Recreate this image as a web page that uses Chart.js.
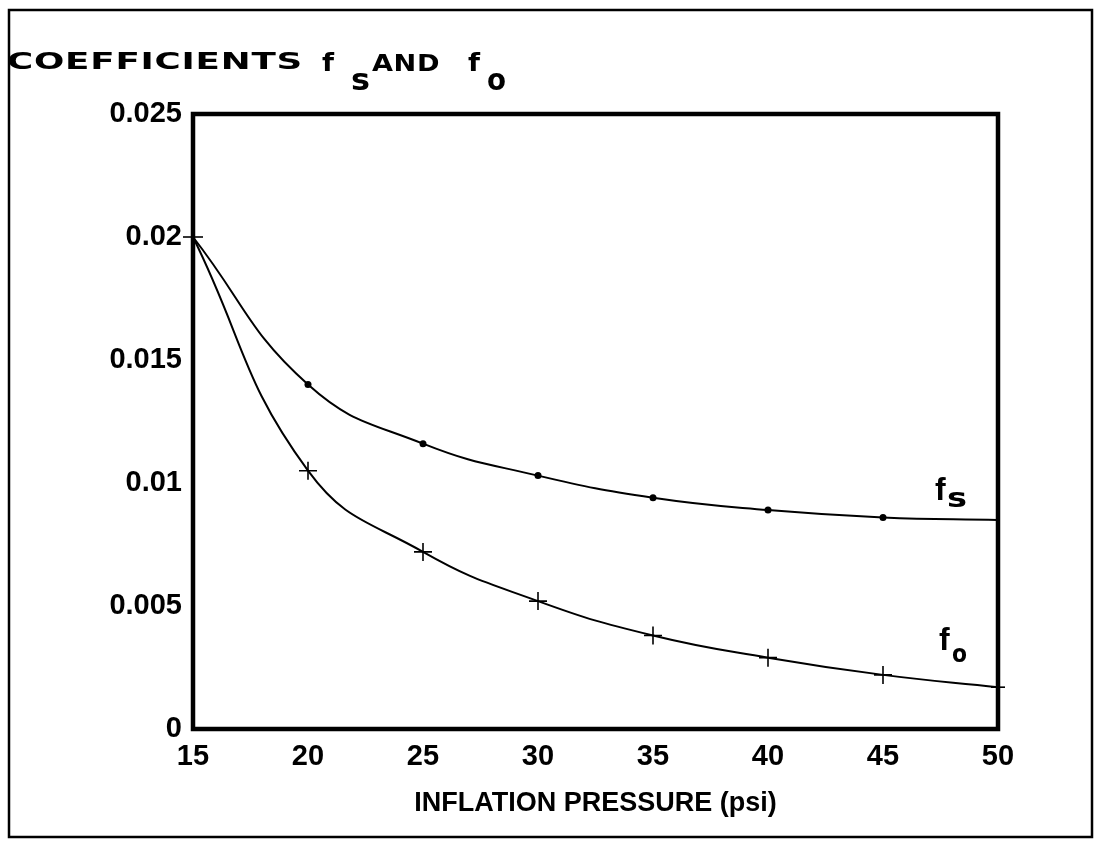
<!DOCTYPE html>
<html>
<head>
<meta charset="utf-8">
<script src="https://cdn.jsdelivr.net/npm/chart.js@4.4.0/dist/chart.umd.min.js"></script>
<style>
  html, body { margin: 0; padding: 0; background: #fff; }
  #wrap { width: 1094px; height: 844px; }
</style>
</head>
<body>
<div id="wrap"><canvas id="coefChart" width="1094" height="844"></canvas></div>
<script>
// values
const pressure = [15, 20, 25, 30, 35, 40, 45, 50];
const fsValues = [0.0200, 0.0140, 0.0116, 0.0103, 0.0094, 0.0089, 0.0086, 0.0085];
const foValues = [0.0200, 0.0105, 0.0072, 0.0052, 0.0038, 0.0029, 0.0022, 0.0017];

const xTickValues = [15, 20, 25, 30, 35, 40, 45, 50];
const xTickLabels = ['15', '20', '25', '30', '35', '40', '45', '50'];
const yTickValues = [0, 0.005, 0.01, 0.015, 0.02, 0.025];
const yTickLabels = ['0', '0.005', '0.01', '0.015', '0.02', '0.025'];

const tickFont = { family: 'Liberation Sans', weight: 'bold', size: 29 };

// stretched bold text, like the wide lettering of the scan
function wideText(ctx, text, x, y, font, width, spacing) {
  ctx.save();
  ctx.font = font;
  ctx.letterSpacing = (spacing || 0) + 'px';
  const w = ctx.measureText(text).width;
  ctx.translate(x, y);
  ctx.scale(width / w, 1);
  ctx.fillText(text, 0, 0);
  ctx.restore();
}

const figureText = {
  id: 'figureText',
  beforeDraw(chart) {
    const ctx = chart.ctx;
    ctx.save();
    ctx.fillStyle = '#fff';
    ctx.fillRect(0, 0, chart.width, chart.height);
    // outer frame of the figure
    ctx.strokeStyle = '#000';
    ctx.lineWidth = 2.5;
    ctx.strokeRect(9, 10, 1083, 827);
    ctx.restore();
  },
  afterDatasetsDraw(chart) {
    const ctx = chart.ctx;
    const { left, top, right, bottom } = chart.chartArea;
    ctx.save();
    ctx.strokeStyle = '#000';
    ctx.lineWidth = 4.5;
    ctx.strokeRect(left, top, right - left, bottom - top);
    ctx.restore();
  },
  afterDraw(chart) {
    const ctx = chart.ctx;
    ctx.save();
    ctx.fillStyle = '#000';
    ctx.textBaseline = 'alphabetic';
    // title: COEFFICIENTS f_s AND f_o
    wideText(ctx, 'COEFFICIENTS', 7, 69, 'bold 23px "DejaVu Sans"', 296, 0.5);
    wideText(ctx, 'f', 322, 71, 'bold 25px "DejaVu Sans"', 12);
    wideText(ctx, 's', 351, 90, 'bold 30px "DejaVu Sans"', 19);
    wideText(ctx, 'AND', 372, 71, 'bold 23px "DejaVu Sans"', 68, 0.5);
    wideText(ctx, 'f', 468, 71, 'bold 25px "DejaVu Sans"', 12);
    wideText(ctx, 'o', 487, 90, 'bold 30px "DejaVu Sans"', 19);

    // curve labels
    ctx.font = 'bold 32px "Liberation Sans"';
    ctx.fillText('f', 935, 500);
    wideText(ctx, 's', 947, 507, 'bold 26px "DejaVu Sans"', 20);
    ctx.font = 'bold 32px "Liberation Sans"';
    ctx.fillText('f', 939, 650);
    wideText(ctx, 'o', 952, 662, 'bold 24px "DejaVu Sans"', 15);
    ctx.restore();
  }
};

const ctx = document.getElementById('coefChart');

new Chart(ctx, {
  type: 'line',
  data: {
    datasets: [
      {
        label: 'fs',
        data: pressure.map((p, i) => ({ x: p, y: fsValues[i] })),
        borderColor: '#000',
        borderWidth: 2,
        pointStyle: 'circle',
        pointRadius: [0, 3.5, 3.5, 3.5, 3.5, 3.5, 3.5, 0],
        pointBackgroundColor: '#000',
        pointBorderColor: '#000',
        pointBorderWidth: 0,
        tension: 0.45,
        clip: false
      },
      {
        label: 'fo',
        data: pressure.map((p, i) => ({ x: p, y: foValues[i] })),
        borderColor: '#000',
        borderWidth: 2,
        pointStyle: ['line', 'cross', 'cross', 'cross', 'cross', 'cross', 'cross', 'line'],
        pointRadius: [10, 9, 9, 9, 9, 9, 9, 7],
        pointBorderColor: '#000',
        pointBorderWidth: 1.6,
        tension: 0.45,
        clip: false
      }
    ]
  },
  options: {
    responsive: false,
    animation: false,
    layout: {
      padding: { left: 0, top: 114, right: 96, bottom: 0 }
    },
    plugins: {
      legend: { display: false },
      tooltip: { enabled: false },
      title: { display: false }
    },
    scales: {
      x: {
        type: 'linear',
        min: 15,
        max: 50,
        afterBuildTicks: (scale) => { scale.ticks = xTickValues.map(v => ({ value: v })); },
        afterFit: (scale) => { scale.height = 115; },
        grid: { display: false, drawTicks: false },
        border: { display: false },
        ticks: {
          color: '#000',
          font: tickFont,
          padding: 11,
          maxRotation: 0,
          callback: (v) => xTickLabels[xTickValues.indexOf(v)]
        },
        title: {
          display: true,
          text: 'INFLATION PRESSURE (psi)',
          color: '#000',
          font: { family: 'Liberation Sans', weight: 'bold', size: 27 },
          padding: { top: 0, bottom: 24 }
        }
      },
      y: {
        type: 'linear',
        min: 0,
        max: 0.025,
        afterBuildTicks: (scale) => { scale.ticks = yTickValues.map(v => ({ value: v })); },
        afterFit: (scale) => { scale.width = 193; },
        grid: { display: false, drawTicks: false },
        border: { display: false },
        ticks: {
          color: '#000',
          font: tickFont,
          padding: 11,
          callback: (v, i) => yTickLabels[i]
        }
      }
    }
  },
  plugins: [figureText]
});
</script>
</body>
</html>
